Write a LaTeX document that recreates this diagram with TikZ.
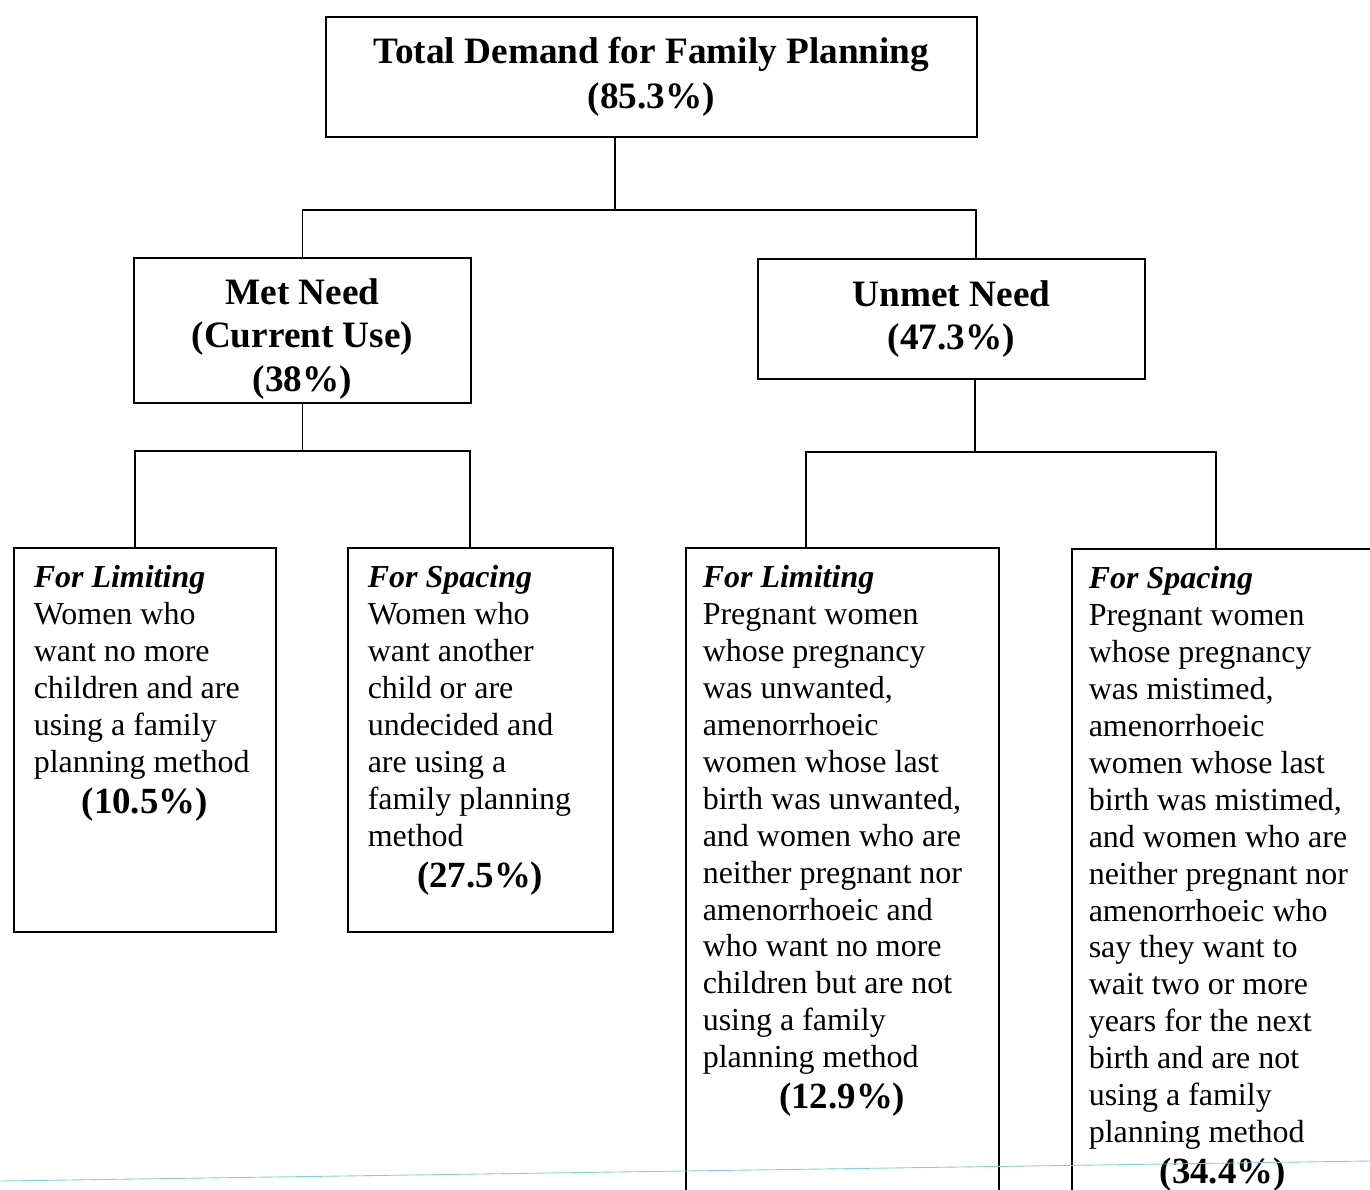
\documentclass[tikz,border=0pt]{standalone}
\usepackage{fontspec}
\setmainfont{Liberation Serif}
\definecolor{scanline}{HTML}{7FD3D6}
\newcommand{\leaftext}[3]{\parbox[c][#1][t]{#2}{\raggedright #3}}
\newcommand{\pct}[1]{\par{\centering\fontsize{21}{23.5}\selectfont\bfseries (#1\%)\par}}
\begin{document}
\begin{tikzpicture}[x=0.02cm, y=-0.02cm, line width=0.9pt,
    headbox/.style={draw, align=center,
      font=\fontsize{21.2}{24.5}\selectfont\bfseries},
    leafbox/.style={draw, anchor=north west, inner xsep=0.4cm,
      inner ysep=0.36cm, font=\fontsize{18.2}{21}\selectfont},
    widebox/.style={leafbox, inner xsep=0.34cm}]
  \useasboundingbox (0,0) rectangle (1370,1190);
  \clip (0,0) rectangle (1370,1190);

  \node[headbox, minimum width=13.02cm, minimum height=2.4cm,
    font=\fontsize{21.2}{26}\selectfont\bfseries]
    (total) at (651.5,77) {Total Demand for Family Planning\\(85.3\%)};
  \node[draw, minimum width=6.74cm, minimum height=2.9cm]
    (met) at (302.5,330.5) {};
  \node[headbox, draw=none] (metlbl) at (302.5,339) {Met Need\\(Current Use)\\(38\%)};
  \node[headbox, minimum width=7.74cm, minimum height=2.4cm]
    (unmet) at (951.5,319) {Unmet Need\\(47.3\%)};

  \node[leafbox] (limA) at (13,547) {\leaftext{6.96cm}{4.44cm}{%
    {\bfseries\itshape For Limiting}\\
    Women who\\ want no more\\ children and are\\
    using a family\\ planning method\pct{10.5}}};
  \node[leafbox] (spaA) at (347,547) {\leaftext{6.96cm}{4.5cm}{%
    {\bfseries\itshape For Spacing}\\
    Women who\\ want another\\ child or are\\ undecided and\\
    are using a\\ family planning\\ method\pct{27.5}}};
  \node[widebox] (limB) at (685,547) {\leaftext{13.28cm}{5.58cm}{%
    {\bfseries\itshape For Limiting}\\
    Pregnant women\\ whose pregnancy\\ was unwanted,\\ amenorrhoeic\\
    women whose last\\ birth was unwanted,\\ and women who are\\
    neither pregnant nor\\ amenorrhoeic and\\ who want no more\\
    children but are not\\ using a family\\ planning method\pct{12.9}}};
  \node[widebox] (spaB) at (1071,548) {\leaftext{13.28cm}{5.36cm}{%
    {\bfseries\itshape For Spacing}\\
    Pregnant women\\ whose pregnancy\\ was mistimed,\\ amenorrhoeic\\
    women whose last\\ birth was mistimed,\\ and women who are\\
    neither pregnant nor\\ amenorrhoeic who\\ say they want to\\
    wait two or more\\ years for the next\\ birth and are not\\
    using a family\\ planning method\pct{34.4}}};

  \coordinate (fork1) at (615,210);
  \draw (total.south -| fork1) -- (fork1);
  \draw (met.north) |- (fork1) -| ([xshift=0.49cm]unmet.north);

  \coordinate (fork2) at (met.south |- 0,451);
  \draw (met.south) -- (fork2);
  \draw ([xshift=-0.2cm]limA.north) |- (fork2) -| ([xshift=-0.21cm]spaA.north);

  \coordinate (fork3) at ([xshift=0.47cm]unmet.south |- 0,452);
  \draw ([xshift=0.47cm]unmet.south) -- (fork3);
  \draw ([xshift=-0.73cm]limB.north) |- (fork3) -| ([xshift=-0.14cm]spaB.north);

  \draw[scanline, line width=0.5pt] (0,1181) -- (1370,1161);
\end{tikzpicture}
\end{document}
